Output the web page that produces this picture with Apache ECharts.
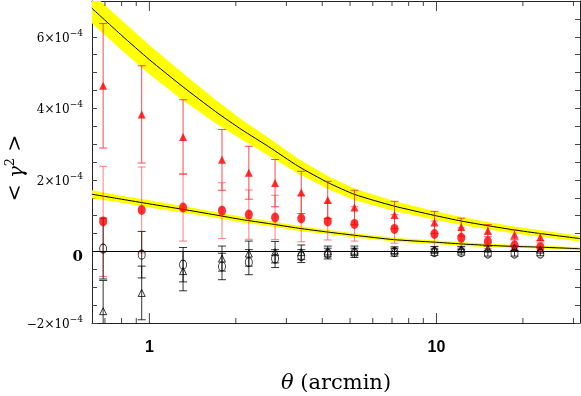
<!DOCTYPE html>
<html>
<head>
<meta charset="utf-8">
<script src="https://cdn.jsdelivr.net/npm/echarts@6/dist/echarts.min.js"></script>
<style>
  html, body { margin: 0; padding: 0; background: #fff; }
  #chart { width: 581px; height: 396px; }
</style>
</head>
<body>
<div id="chart"></div>
<script>
// values are in units of 1e-4
var S = 1e-4;

// angular bins (arcmin)
var theta = [0.69, 0.94, 1.31, 1.79, 2.22, 2.74, 3.38, 4.18, 5.18, 7.14, 9.84, 12.2, 15.1, 18.7, 23.0];

// red filled triangles
var redTri    = [4.63, 3.83, 3.20, 2.56, 2.20, 1.91, 1.65, 1.44, 1.23, 1.02, 0.81, 0.68, 0.58, 0.47, 0.40];
var redTriErr = [1.74, 1.36, 1.04, 0.85, 0.74, 0.66, 0.59, 0.52, 0.48, 0.38, 0.31, 0.25, 0.17, 0.13, 0.10];
// red filled circles
var redCirc    = [0.84, 1.16, 1.23, 1.14, 1.03, 0.95, 0.92, 0.84, 0.77, 0.63, 0.49, 0.38, 0.28, 0.17, 0.12];
var redCircErr = [1.54, 1.20, 0.94, 0.78, 0.69, 0.62, 0.65, 0.52, 0.48, 0.40, 0.36, 0.28, 0.20, 0.15, 0.12];
// black open circles
var blkCirc    = [0.08, -0.09, -0.37, -0.42, -0.30, -0.20, -0.13, -0.06, -0.04, -0.02, -0.02, -0.02, -0.06, -0.06, -0.06];
var blkCircErr = [0.85, 0.65, 0.48, 0.37, 0.35, 0.25, 0.18, 0.15, 0.13, 0.11, 0.09, 0.08, 0.07, 0.07, 0.06];
// black open triangles
var blkTri    = [-1.67, -1.16, -0.55, -0.20, -0.06, -0.02, -0.02, 0.00, 0.02, 0.03, 0.05, 0.06, 0.08, 0.10, 0.05];
var blkTriErr = [0.86, 0.75, 0.55, 0.35, 0.35, 0.30, 0.20, 0.15, 0.13, 0.10, 0.09, 0.08, 0.07, 0.07, 0.06];

// model curves with their yellow bands
var modelTheta = [0.63, 0.8, 1.0, 1.3, 1.7, 2.1, 2.6, 3.3, 4.2, 5.2, 7.1, 9.8, 12.2, 15.1, 18.7, 23, 31.6];
var modelHigh  = [6.80, 6.04, 5.36, 4.62, 3.91, 3.40, 2.93, 2.38, 1.92, 1.59, 1.27, 1.01, 0.85, 0.72, 0.60, 0.50, 0.36];
var bandHigh   = [0.42, 0.42, 0.41, 0.38, 0.33, 0.28, 0.25, 0.21, 0.18, 0.16, 0.14, 0.12, 0.11, 0.10, 0.10, 0.09, 0.08];
var modelLow   = [1.60, 1.46, 1.33, 1.18, 1.02, 0.89, 0.78, 0.65, 0.54, 0.45, 0.33, 0.26, 0.21, 0.17, 0.14, 0.12, 0.075];
var bandLow    = [0.11, 0.10, 0.10, 0.09, 0.08, 0.08, 0.07, 0.07, 0.06, 0.06, 0.05, 0.05, 0.05, 0.05, 0.04, 0.04, 0.04];

// axis ticks
var majorTicks = [1, 10];
var minorTicks = [0.7, 0.8, 0.9, 2, 3, 4, 5, 6, 7, 8, 9, 20, 30];

var myChart = echarts.init(document.getElementById('chart'));

function pts(vals, errs) {
  return theta.map(function (t, i) { return [t, vals[i] * S, errs[i] * S]; });
}

// vertical error bar with caps
function errRender(color, capW) {
  return function (params, api) {
    var x = api.value(0), v = api.value(1), e = api.value(2);
    var hi = api.coord([x, v + e]);
    var lo = api.coord([x, v - e]);
    var st = { stroke: color, lineWidth: 1 };
    return {
      type: 'group',
      children: [
        { type: 'line', shape: { x1: hi[0], y1: hi[1], x2: lo[0], y2: lo[1] }, style: st },
        { type: 'line', shape: { x1: hi[0] - capW, y1: hi[1], x2: hi[0] + capW, y2: hi[1] }, style: st },
        { type: 'line', shape: { x1: lo[0] - capW, y1: lo[1], x2: lo[0] + capW, y2: lo[1] }, style: st }
      ]
    };
  };
}

// yellow band polygon
function bandRender(mid, half) {
  return function (params, api) {
    if (params.dataIndex !== 0) return null;
    var p = [];
    for (var i = 0; i < modelTheta.length; i++) p.push(api.coord([modelTheta[i], (mid[i] + half[i]) * S]));
    for (var j = modelTheta.length - 1; j >= 0; j--) p.push(api.coord([modelTheta[j], (mid[j] - half[j]) * S]));
    return { type: 'polygon', shape: { points: p }, style: { fill: '#ffff00' } };
  };
}

// x ticks on bottom and top edges
function tickRender(params, api) {
  var c = api.coord([api.value(0), 0]);
  var len = api.value(1) ? 10 : 5;
  var top = params.coordSys.y, bot = params.coordSys.y + params.coordSys.height;
  var st = { stroke: '#444', lineWidth: 1 };
  return {
    type: 'group',
    children: [
      { type: 'line', shape: { x1: c[0], y1: bot, x2: c[0], y2: bot - len }, style: st },
      { type: 'line', shape: { x1: c[0], y1: top, x2: c[0], y2: top + len }, style: st }
    ]
  };
}

var tickData = majorTicks.map(function (t) { return [t, 1]; })
  .concat(minorTicks.map(function (t) { return [t, 0]; }));

function yLabel(v) {
  var k = v / S;
  if (Math.abs(k - Math.round(k)) > 1e-6) return '';
  k = Math.round(k);
  if (k === 0) return '{z|0}';
  if (k % 2 !== 0) return '';
  return '{m|' + (k < 0 ? '\u2212' : '') + Math.abs(k) + '\u00d710}{e|\u22124}';
}

var serif = 'DejaVu Serif';

myChart.setOption({
  animation: false,
  grid: { left: 92, right: 1, top: 1, bottom: 73, containLabel: false, outerBoundsMode: 'none' },
  xAxis: [{
    type: 'log',
    min: 0.631,
    max: 31.62,
    axisLine: { onZero: false, lineStyle: { color: '#222', width: 1 } },
    axisTick: { show: false },
    splitLine: { show: false },
    minorTick: { show: false },
    axisLabel: {
      margin: 17,
      fontFamily: 'Liberation Sans',
      fontWeight: 'bold',
      fontSize: 16,
      color: '#000',
      showMinLabel: false,
      showMaxLabel: false,
      formatter: function (v) {
        if (Math.abs(v - 1) < 1e-6) return '1';
        if (Math.abs(v - 10) < 1e-6) return '10';
        return '';
      }
    },
    name: '{i|\u03b8} (arcmin)',
    nameLocation: 'middle',
    nameGap: 50,
    nameMoveOverlap: false,
    nameTextStyle: {
      fontFamily: serif, fontSize: 21, color: '#000',
      rich: { i: { fontFamily: serif, fontStyle: 'italic', fontSize: 21 } }
    }
  }, {
    type: 'log',
    position: 'top',
    min: 0.631,
    max: 31.62,
    axisLine: { onZero: false, lineStyle: { color: '#222', width: 1 } },
    axisTick: { show: false },
    axisLabel: { show: false },
    splitLine: { show: false }
  }],
  yAxis: [{
    type: 'value',
    min: -2 * S,
    max: 7 * S,
    interval: 0.5 * S,
    axisLine: { show: true, onZero: false, lineStyle: { color: '#222', width: 1 } },
    axisTick: { show: true, inside: true, length: 5, lineStyle: { color: '#444' } },
    splitLine: { show: false },
    axisLabel: {
      margin: 9,
      color: '#000',
      showMaxLabel: false,
      formatter: yLabel,
      rich: {
        m: { fontFamily: serif, fontSize: 12, lineHeight: 16, verticalAlign: 'bottom' },
        e: { fontFamily: serif, fontSize: 9, lineHeight: 9, verticalAlign: 'top' },
        z: { fontFamily: serif, fontSize: 15, fontWeight: 'bold', padding: [12, 0, 0, 0] }
      }
    },
    name: '< {i|\u03b3}{s|2} >',
    nameLocation: 'middle',
    nameRotate: 90,
    nameGap: 64,
    nameMoveOverlap: false,
    nameTextStyle: {
      fontFamily: serif, fontSize: 20, color: '#000',
      padding: [0, 12, 0, 0],
      rich: {
        i: { fontFamily: serif, fontStyle: 'italic', fontSize: 20, lineHeight: 24, verticalAlign: 'bottom' },
        s: { fontFamily: serif, fontSize: 13, lineHeight: 11, verticalAlign: 'top' }
      }
    }
  }, {
    type: 'value',
    position: 'right',
    min: -2 * S,
    max: 7 * S,
    interval: 0.5 * S,
    axisLine: { show: true, onZero: false, lineStyle: { color: '#222', width: 1 } },
    axisTick: { show: true, inside: true, length: 5, lineStyle: { color: '#444' } },
    axisLabel: { show: false },
    splitLine: { show: false }
  }],
  series: [
    {
      type: 'custom', clip: true, renderItem: bandRender(modelHigh, bandHigh),
      data: modelTheta.map(function (t, i) { return [t, modelHigh[i] * S]; }),
      encode: { x: 0, y: 1 }, z: 1, silent: true
    },
    {
      type: 'custom', clip: true, renderItem: bandRender(modelLow, bandLow),
      data: modelTheta.map(function (t, i) { return [t, modelLow[i] * S]; }),
      encode: { x: 0, y: 1 }, z: 1, silent: true
    },
    {
      type: 'line', smooth: 0.2, showSymbol: false, symbol: 'none', z: 2,
      data: modelTheta.map(function (t, i) { return [t, modelHigh[i] * S]; }),
      lineStyle: { color: '#000', width: 1 }
    },
    {
      type: 'line', smooth: 0.2, showSymbol: false, symbol: 'none', z: 2,
      data: modelTheta.map(function (t, i) { return [t, modelLow[i] * S]; }),
      lineStyle: { color: '#000', width: 1 },
      markLine: {
        silent: true, symbol: 'none', label: { show: false },
        lineStyle: { color: '#000', width: 1, type: 'solid' },
        data: [{ yAxis: 0 }]
      }
    },
    {
      type: 'custom', clip: true, z: 3, renderItem: errRender('rgba(255,30,30,0.8)', 4),
      data: pts(redTri, redTriErr), encode: { x: 0, y: 1 }
    },
    {
      type: 'custom', clip: true, z: 3, renderItem: errRender('rgba(255,60,60,0.65)', 4),
      data: pts(redCirc, redCircErr), encode: { x: 0, y: 1 }
    },
    {
      type: 'custom', clip: true, z: 3, renderItem: errRender('rgba(0,0,0,0.8)', 4),
      data: pts(blkCirc, blkCircErr), encode: { x: 0, y: 1 }
    },
    {
      type: 'custom', clip: true, z: 3, renderItem: errRender('rgba(0,0,0,0.8)', 4),
      data: pts(blkTri, blkTriErr), encode: { x: 0, y: 1 }
    },
    {
      type: 'scatter', symbol: 'triangle', symbolSize: [8, 8], z: 4,
      data: pts(redTri, redTriErr), itemStyle: { color: '#ff0000' }
    },
    {
      type: 'scatter', symbol: 'circle', symbolSize: [8, 10], z: 4,
      data: pts(redCirc, redCircErr), itemStyle: { color: '#ff0000' }
    },
    {
      type: 'scatter', symbol: 'circle', symbolSize: [7, 9], z: 4,
      data: pts(blkCirc, blkCircErr),
      itemStyle: { color: 'rgba(0,0,0,0)', borderColor: '#000', borderWidth: 1 }
    },
    {
      type: 'scatter', symbol: 'triangle', symbolSize: [7, 7], z: 4,
      data: pts(blkTri, blkTriErr),
      itemStyle: { color: 'rgba(0,0,0,0)', borderColor: '#000', borderWidth: 1 }
    },
    {
      type: 'custom', clip: false, z: 5, renderItem: tickRender,
      data: tickData, encode: { x: 0 }, silent: true
    }
  ]
});
</script>
</body>
</html>
